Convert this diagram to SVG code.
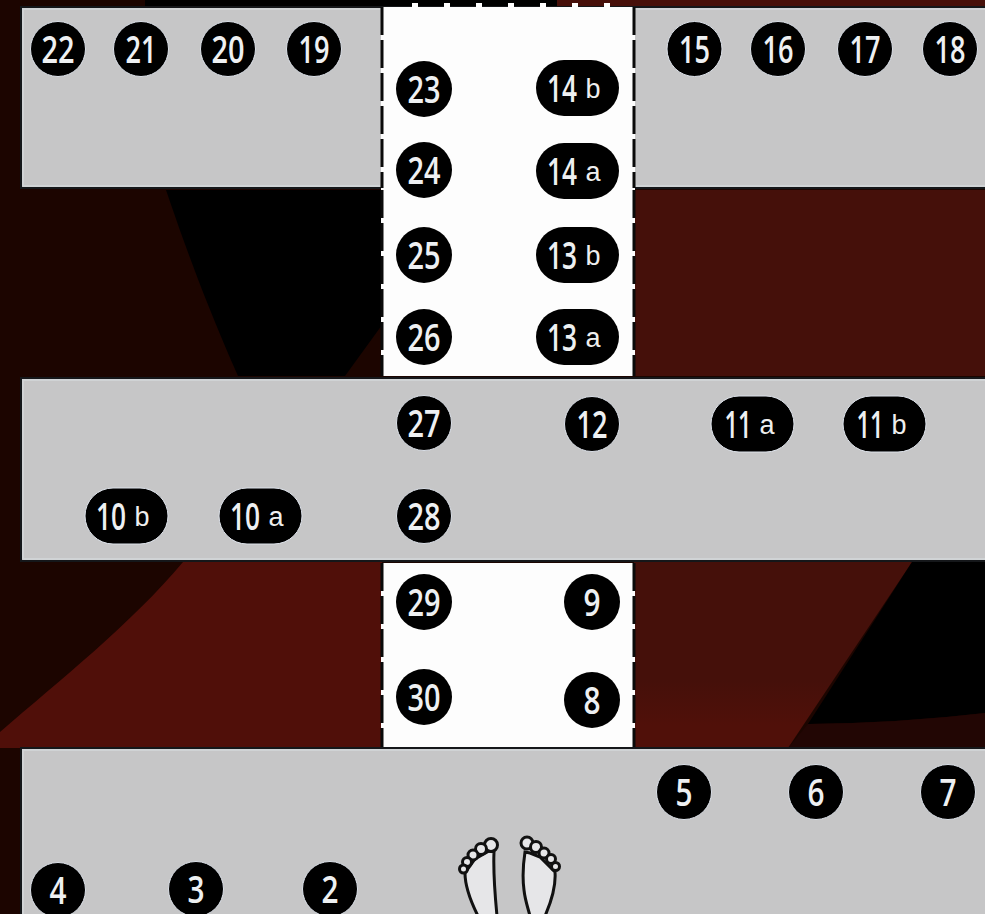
<svg xmlns="http://www.w3.org/2000/svg" width="985" height="914" viewBox="0 0 985 914">
<defs>
<linearGradient id="redfade" gradientUnits="userSpaceOnUse" x1="0" y1="680" x2="0" y2="725">
<stop offset="0" stop-color="#45100a"/><stop offset="1" stop-color="#501009"/>
</linearGradient>
</defs>
<style>
.band{fill:#c6c6c7;stroke:#15171a;stroke-width:2}
.edge{fill:none;stroke:#d0d3d5;stroke-width:2}
.white{fill:#fdfdfd}
.dash{fill:none;stroke:#0a0a0a;stroke-width:3;stroke-dasharray:28 5}
.n{fill:#000}
.h{stroke:#dde2ea;stroke-width:1}
.t{font-family:"Open Sans","Noto Sans",sans-serif;font-weight:600;font-size:37px;fill:#eef0f2;text-anchor:middle}
.s{font-family:"Liberation Sans",Arial,sans-serif;font-size:27px;fill:#eeeeee;text-anchor:middle}
.foot{fill:#e6e6e8;stroke:#111;stroke-width:3}
</style>
<g id="background">
<rect width="985" height="914" fill="#1c0500"/>
<rect x="145" y="0" width="415" height="6" fill="#000"/>
<rect x="557" y="0" width="428" height="6" fill="#47100a"/>
<path d="M166 190H382V325L345 376H238C200 290 178 225 166 190Z" fill="#000"/>
<path d="M634 190H985V376H634Z" fill="#45100a"/>
<path d="M0 732C60 680 130 625 183 562H382V748H0Z" fill="#500f09"/>
<path d="M634 562H912L788 748H634Z" fill="url(#redfade)"/>
<path d="M912 562H985V713Q900 723 808 724Z" fill="#000"/>
<path d="M808 724Q900 723 985 713V748H788Z" fill="#220604"/>
</g>
<g id="floor">
<rect class="band" x="21" y="7" width="966" height="181"/>
<rect class="band" x="21" y="378" width="966" height="183"/>
<rect class="band" x="21" y="748" width="966" height="170"/>
<path class="edge" d="M23 186V9H985M23 186H380M636 186H985M23 559V380H985M23 559H985M23 914V750H985"/>
<rect class="white" x="381" y="7" width="254" height="369"/>
<rect class="white" x="381" y="563" width="254" height="184"/>
<path class="dash" d="M382 7V188M634 7V188M382 190V376M634 190V376M382 563V747M634 563V747"/>
<path d="M412 5H611" fill="none" stroke="#fff" stroke-width="4" stroke-dasharray="6 26"/>
</g>
<g id="connectors"/>
<g id="n22"><circle class="n h" cx="58" cy="49" r="27.500"/><text class="t" x="58" y="63" textLength="33" lengthAdjust="spacingAndGlyphs">22</text></g>
<g id="n21"><circle class="n h" cx="141" cy="49" r="27.500"/><text class="t" x="141" y="63" textLength="31" lengthAdjust="spacingAndGlyphs">21</text></g>
<g id="n20"><circle class="n h" cx="228" cy="49" r="27.500"/><text class="t" x="228" y="63" textLength="33" lengthAdjust="spacingAndGlyphs">20</text></g>
<g id="n19"><circle class="n h" cx="314" cy="49" r="27.500"/><text class="t" x="314" y="63" textLength="31" lengthAdjust="spacingAndGlyphs">19</text></g>
<g id="n15"><circle class="n h" cx="694.500" cy="49" r="27.500"/><text class="t" x="694.500" y="63" textLength="31" lengthAdjust="spacingAndGlyphs">15</text></g>
<g id="n16"><circle class="n h" cx="778" cy="49" r="27.500"/><text class="t" x="778" y="63" textLength="31" lengthAdjust="spacingAndGlyphs">16</text></g>
<g id="n17"><circle class="n h" cx="865" cy="49" r="27.500"/><text class="t" x="865" y="63" textLength="31" lengthAdjust="spacingAndGlyphs">17</text></g>
<g id="n18"><circle class="n h" cx="950" cy="49" r="27.500"/><text class="t" x="950" y="63" textLength="31" lengthAdjust="spacingAndGlyphs">18</text></g>
<g id="n23"><circle class="n" cx="424" cy="89" r="28"/><text class="t" x="424" y="103" textLength="33" lengthAdjust="spacingAndGlyphs">23</text></g>
<g id="n24"><circle class="n" cx="424" cy="170" r="28"/><text class="t" x="424" y="184" textLength="33" lengthAdjust="spacingAndGlyphs">24</text></g>
<g id="n25"><circle class="n" cx="424" cy="255" r="28"/><text class="t" x="424" y="269" textLength="33" lengthAdjust="spacingAndGlyphs">25</text></g>
<g id="n26"><circle class="n" cx="424" cy="337" r="28"/><text class="t" x="424" y="351" textLength="33" lengthAdjust="spacingAndGlyphs">26</text></g>
<g id="n14b"><rect class="n" x="536" y="60" width="83" height="56" rx="28"/><text class="t" transform="translate(562 102) scale(.71 1)">14</text><text class="s" x="593" y="98">b</text></g>
<g id="n14a"><rect class="n" x="536" y="143" width="83" height="56" rx="28"/><text class="t" transform="translate(562 185) scale(.71 1)">14</text><text class="s" x="593" y="181">a</text></g>
<g id="n13b"><rect class="n" x="536" y="227" width="83" height="56" rx="28"/><text class="t" transform="translate(562 269) scale(.71 1)">13</text><text class="s" x="593" y="265">b</text></g>
<g id="n13a"><rect class="n" x="536" y="309" width="83" height="56" rx="28"/><text class="t" transform="translate(562 351) scale(.71 1)">13</text><text class="s" x="593" y="347">a</text></g>
<g id="n27"><circle class="n h" cx="424" cy="423" r="27.500"/><text class="t" x="424" y="437" textLength="33" lengthAdjust="spacingAndGlyphs">27</text></g>
<g id="n12"><circle class="n h" cx="592" cy="424" r="27.500"/><text class="t" x="592" y="438" textLength="31" lengthAdjust="spacingAndGlyphs">12</text></g>
<g id="n11a"><rect class="n h" x="711" y="396" width="83" height="56" rx="28"/><text class="t" transform="translate(738 438) scale(.64 1)">11</text><text class="s" x="767" y="434">a</text></g>
<g id="n11b"><rect class="n h" x="843" y="396" width="83" height="56" rx="28"/><text class="t" transform="translate(870 438) scale(.64 1)">11</text><text class="s" x="899" y="434">b</text></g>
<g id="n10b"><rect class="n h" x="85" y="488" width="83" height="56" rx="28"/><text class="t" transform="translate(111 530) scale(.71 1)">10</text><text class="s" x="142" y="526">b</text></g>
<g id="n10a"><rect class="n h" x="219" y="488" width="83" height="56" rx="28"/><text class="t" transform="translate(245 530) scale(.71 1)">10</text><text class="s" x="276" y="526">a</text></g>
<g id="n28"><circle class="n h" cx="424" cy="516" r="27.500"/><text class="t" x="424" y="530" textLength="33" lengthAdjust="spacingAndGlyphs">28</text></g>
<g id="n29"><circle class="n" cx="424" cy="602" r="28"/><text class="t" x="424" y="616" textLength="33" lengthAdjust="spacingAndGlyphs">29</text></g>
<g id="n9"><circle class="n" cx="592" cy="602" r="28"/><text class="t" x="592" y="616" textLength="17" lengthAdjust="spacingAndGlyphs">9</text></g>
<g id="n30"><circle class="n" cx="424" cy="697" r="28"/><text class="t" x="424" y="711" textLength="33" lengthAdjust="spacingAndGlyphs">30</text></g>
<g id="n8"><circle class="n" cx="592" cy="700" r="28"/><text class="t" x="592" y="714" textLength="17" lengthAdjust="spacingAndGlyphs">8</text></g>
<g id="n5"><circle class="n h" cx="684" cy="792" r="27.500"/><text class="t" x="684" y="806" textLength="17" lengthAdjust="spacingAndGlyphs">5</text></g>
<g id="n6"><circle class="n h" cx="816" cy="792" r="27.500"/><text class="t" x="816" y="806" textLength="17" lengthAdjust="spacingAndGlyphs">6</text></g>
<g id="n7"><circle class="n h" cx="948" cy="792" r="27.500"/><text class="t" x="948" y="806" textLength="17" lengthAdjust="spacingAndGlyphs">7</text></g>
<g id="n4"><circle class="n h" cx="58" cy="890" r="27.500"/><text class="t" x="58" y="904" textLength="17" lengthAdjust="spacingAndGlyphs">4</text></g>
<g id="n3"><circle class="n h" cx="196" cy="889" r="27.500"/><text class="t" x="196" y="903" textLength="17" lengthAdjust="spacingAndGlyphs">3</text></g>
<g id="n2"><circle class="n h" cx="330" cy="889" r="27.500"/><text class="t" x="330" y="903" textLength="17" lengthAdjust="spacingAndGlyphs">2</text></g>
<g id="feet">
<path class="foot" d="M465 873C465 885 470 900 478 916H497C495 895 493 875 494 852L489 851L475 859Z"/>
<circle class="foot" cx="491" cy="845" r="6.500"/><circle class="foot" cx="481" cy="849" r="5.500"/><circle class="foot" cx="473" cy="855" r="5"/><circle class="foot" cx="467" cy="862" r="4.500"/><circle class="foot" cx="463.500" cy="869" r="4"/>
<path class="foot" d="M525 852C523 865 522 875 524 890C525 900 528 908 530 916H545C552 900 556 885 555 872L540 857L530 853Z"/>
<circle class="foot" cx="527" cy="843" r="6"/><circle class="foot" cx="536" cy="847" r="5.500"/><circle class="foot" cx="544" cy="853" r="5"/><circle class="foot" cx="551" cy="859" r="4.500"/><circle class="foot" cx="555.500" cy="866.500" r="4"/>
</g>
</svg>
